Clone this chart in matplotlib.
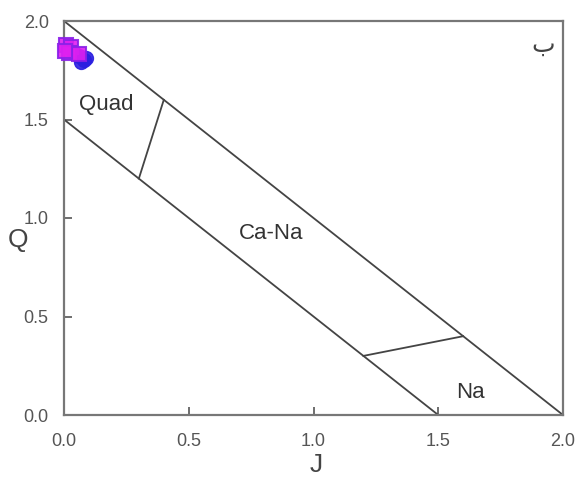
import matplotlib
matplotlib.use("Agg")
import matplotlib.pyplot as plt

plt.rcParams['font.family'] = ['Liberation Sans', 'DejaVu Sans']

# Boundary lines of the Morimoto Q-J diagram
outer_J = [0.0, 2.0]
outer_Q = [2.0, 0.0]
inner_J = [0.0, 1.5]
inner_Q = [1.5, 0.0]
quad_div_J = [0.4, 0.3]
quad_div_Q = [1.6, 1.2]
na_div_J = [1.6, 1.2]
na_div_Q = [0.4, 0.3]

# Data points
blue_J = [0.06, 0.08, 0.09, 0.04, 0.07]
blue_Q = [1.82, 1.80, 1.81, 1.84, 1.79]
mag_J = [0.01, 0.03, 0.02, 0.06, 0.005]
mag_Q = [1.88, 1.87, 1.84, 1.83, 1.85]

region_labels = ["Quad", "Ca-Na", "Na"]
region_J = [0.168, 0.832, 1.631]
region_Q = [1.578, 0.920, 0.112]

xticks = [0.0, 0.5, 1.0, 1.5, 2.0]
yticks = [0.0, 0.5, 1.0, 1.5, 2.0]

W, H = 579, 478
fig = plt.figure(figsize=(W / 100, H / 100), dpi=100)
ax = fig.add_axes([64 / W, 1 - 415 / H, (563 - 64) / W, (415 - 21) / H])

lc = '#444444'
for xs, ys in [(outer_J, outer_Q), (inner_J, inner_Q), (quad_div_J, quad_div_Q), (na_div_J, na_div_Q)]:
    ax.plot(xs, ys, color=lc, lw=1.3, zorder=2)

ax.plot(blue_J, blue_Q, 'o', ms=10, mfc='#2a1fe0', mec='#2a1fe0', alpha=0.9, zorder=3, clip_on=False)
ax.plot(mag_J, mag_Q, 's', ms=10, mfc='#e020f0', mec='#8a20e8', mew=1.5, alpha=0.9, zorder=4, clip_on=False)

for t, x, y in zip(region_labels, region_J, region_Q):
    ax.text(x, y, t, fontsize=16, color='#333333', ha='center', va='center')

ax.text(1.92, 1.88, 'ب', fontsize=18, color='#444444', ha='center', va='center', family=['DejaVu Sans'])

ax.set_xlim(0, 2.0)
ax.set_ylim(0, 2.0)
ax.set_xticks(xticks)
ax.set_yticks(yticks)
ax.set_xticklabels([f"{v:.1f}" for v in xticks])
ax.set_yticklabels([f"{v:.1f}" for v in yticks])
ax.tick_params(direction='in', length=6, width=1.2, colors='#555555', labelsize=13, labelcolor='#555555')
ax.tick_params(axis='x', pad=13)
ax.tick_params(axis='y', pad=11)
for s in ax.spines.values():
    s.set_color('#777777')
    s.set_linewidth(1.6)

fig.text(18 / W, 1 - 240 / H, 'Q', fontsize=19, color='#444444', ha='center', va='center')
fig.text(316 / W, 1 - 465 / H, 'J', fontsize=19, color='#444444', ha='center', va='center')

fig.savefig('out.png', dpi=100)
